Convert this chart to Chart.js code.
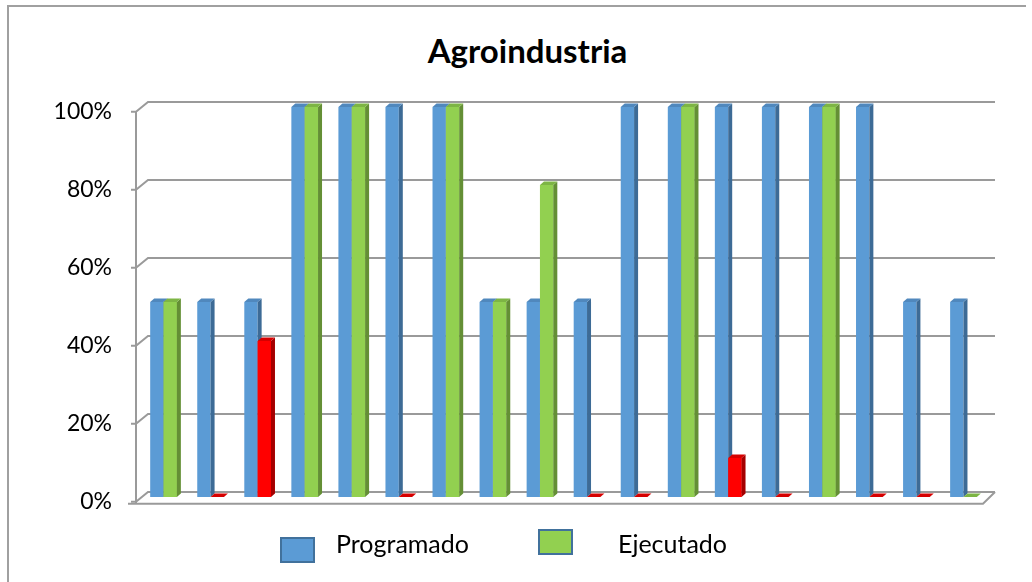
<!DOCTYPE html>
<html>
<head>
<meta charset="utf-8">
<script src="https://cdn.jsdelivr.net/npm/chart.js@4/dist/chart.umd.min.js"></script>
<style>
  html, body { margin: 0; padding: 0; background: #fff; }
  #wrap { position: relative; width: 1032px; height: 582px; overflow: hidden; font-family: Lato, sans-serif; }
  #frame { position: absolute; left: 7px; top: 5px; width: 1017px; height: 600px; border-left: 2px solid #a0a0a0; border-top: 2px solid #a0a0a0; }
  #title { position: absolute; left: 0; width: 1055px; top: 31px; text-align: center; font-weight: bold; font-size: 33px; line-height: 38px; color: #000; }
  canvas { position: absolute; left: 0; top: 0; }
  .leg { position: absolute; font-size: 25px; line-height: 30px; color: #000; }
  .box { position: absolute; box-sizing: border-box; border: 2px solid #41719c; }
</style>
</head>
<body>
<div id="wrap">
  <div id="frame"></div>
  <div id="title">Agroindustria</div>
  <canvas id="chart" width="1032" height="582"></canvas>
  <div id="legend"></div>
</div>
<script>
// -----------------------------
// Data
// -----------------------------
const categorias = ["1","2","3","4","5","6","7","8","9","10","11","12","13","14","15","16","17","18"];
const programado = [50, 50, 50, 100, 100, 100, 100, 50, 50, 50, 100, 100, 100, 100, 100, 100, 50, 50];
const ejecutado  = [50, 0, 40, 100, 100, 0, 100, 50, 80, 0, 0, 100, 10, 0, 100, 0, 0, 0];
const yTicks = [0, 20, 40, 60, 80, 100];

// colour of each Ejecutado bar (green = done, red = behind)
const ejecutadoColor = ["g","r","r","g","g","r","g","g","g","r","r","g","r","r","g","r","r","g"];

const palette = {
  b: { front: "#5b9bd5", top: "#5088bd", side: "#3d6b96" },
  g: { front: "#92d050", top: "#7db544", side: "#648f35" },
  r: { front: "#ff0000", top: "#d60000", side: "#a50000" }
};

const DX = 4, DY = -3.5;   // bar depth
const GRID = "#9a9a9a";

// -----------------------------
// 3D faces for the bars
// -----------------------------
function drawFaces(ctx, bar, col) {
  const l = bar.x - bar.width / 2, r = bar.x + bar.width / 2;
  const t = bar.y, b = bar.base;
  ctx.fillStyle = col.side;
  ctx.beginPath();
  ctx.moveTo(r, t); ctx.lineTo(r + DX, t + DY); ctx.lineTo(r + DX, b + DY); ctx.lineTo(r, b);
  ctx.closePath(); ctx.fill();
  ctx.fillStyle = col.top;
  ctx.beginPath();
  ctx.moveTo(l, t); ctx.lineTo(l + DX, t + DY); ctx.lineTo(r + DX, t + DY); ctx.lineTo(r, t);
  ctx.closePath(); ctx.fill();
}

const walls = {
  id: "walls",
  beforeDatasetsDraw(chart) {
    const ctx = chart.ctx, y = chart.scales.y, area = chart.chartArea;
    ctx.save();
    ctx.strokeStyle = GRID;
    ctx.lineWidth = 2;
    const fx = area.left - 4, fy = 4.7;   // front plane offset
    const bx = area.left + 8, by = -5;    // back wall offset
    yTicks.forEach(v => {
      const p = y.getPixelForValue(v);
      ctx.beginPath();
      ctx.moveTo(fx - 5, p + fy);
      ctx.lineTo(fx, p + fy);
      ctx.lineTo(bx, p + by);
      ctx.lineTo(area.right + 8, p + by);
      ctx.stroke();
    });
    // left axis
    ctx.beginPath();
    ctx.moveTo(fx, y.getPixelForValue(100) + fy);
    ctx.lineTo(fx, y.getPixelForValue(0) + fy + 2);
    ctx.stroke();
    // floor
    const p0 = y.getPixelForValue(0);
    ctx.beginPath();
    ctx.moveTo(fx - 8, p0 + fy + 2);
    ctx.lineTo(area.right - 4, p0 + fy + 2);
    ctx.lineTo(area.right + 8, p0 + by);
    ctx.stroke();
    ctx.restore();
  },
  afterDatasetsDraw(chart) {
    const ctx = chart.ctx;
    const prog = chart.getDatasetMeta(0).data;
    const ejec = chart.getDatasetMeta(1).data;
    ctx.save();
    prog.forEach((bar, i) => {
      drawFaces(ctx, bar, palette.b);
      // Ejecutado stands in front of the blue side face
      const e = ejec[i], col = palette[ejecutadoColor[i]];
      ctx.fillStyle = col.front;
      ctx.fillRect(e.x - e.width / 2, e.y, e.width, e.base - e.y);
      drawFaces(ctx, e, col);
    });
    ctx.restore();
  }
};

// -----------------------------
// Chart
// -----------------------------
const chart = new Chart(document.getElementById("chart"), {
  type: "bar",
  data: {
    labels: categorias,
    datasets: [
      { label: "Programado", data: programado, backgroundColor: palette.b.front },
      { label: "Ejecutado", data: ejecutado, backgroundColor: ejecutadoColor.map(c => palette[c].front) }
    ]
  },
  options: {
    responsive: false,
    animation: false,
    devicePixelRatio: 1,
    layout: { padding: { left: 0, top: 107, right: 45, bottom: 85 } },
    datasets: { bar: { barPercentage: 1, categoryPercentage: 0.567 } },
    plugins: { legend: { display: false }, title: { display: false }, tooltip: { enabled: false } },
    scales: {
      x: { display: false },
      y: {
        min: 0, max: 100,
        afterFit: s => { s.width = 140; },
        afterBuildTicks: s => { s.ticks = yTicks.map(v => ({ value: v })); },
        grid: { display: false, drawTicks: false },
        border: { display: false },
        ticks: {
          color: "#000",
          font: { family: "Lato", size: 23 },
          padding: 28,
          labelOffset: 5,
          callback: v => v + "%"
        }
      }
    }
  },
  plugins: [walls]
});

// -----------------------------
// Legend
// -----------------------------
const legendItems = [
  { box: [280, 537], text: [336, 528], fill: palette.b.front },
  { box: [538, 529], text: [618, 528], fill: palette.g.front }
];
const legend = document.getElementById("legend");
chart.data.datasets.forEach((ds, i) => {
  const it = legendItems[i];
  const box = document.createElement("div");
  box.className = "box";
  box.style.cssText = `left:${it.box[0]}px;top:${it.box[1]}px;width:35px;height:26px;background:${it.fill}`;
  legend.appendChild(box);
  const t = document.createElement("div");
  t.className = "leg";
  t.style.left = it.text[0] + "px";
  t.style.top = it.text[1] + "px";
  t.textContent = ds.label;
  legend.appendChild(t);
});
</script>
</body>
</html>
